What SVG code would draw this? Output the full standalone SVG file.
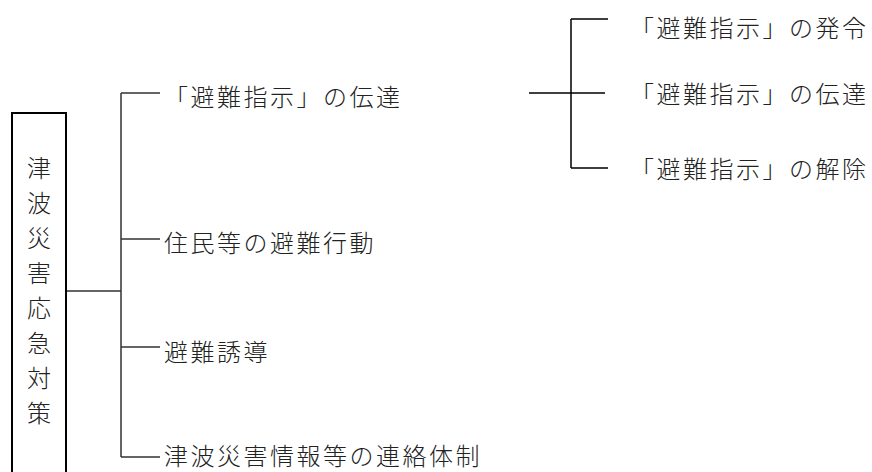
<svg xmlns="http://www.w3.org/2000/svg" width="872" height="472" viewBox="0 0 872 472">
<style>
text{font-family:"Noto Sans CJK JP","Noto Sans CJK SC",sans-serif;font-size:24px;font-weight:300;fill:#222;}
.h{letter-spacing:2.5px;}
.v{text-anchor:middle;}
.ln{stroke:#333;stroke-width:1.5;fill:none;}
.rl{stroke:#000;stroke-width:1.5;fill:none;}
.box{stroke:#000;stroke-width:2;fill:#fff;}
</style>
<rect width="872" height="472" fill="#fff"/>
<g id="connectors">
<path class="ln" d="M67 291H121M121 93V457M121 93H160M121 239H160M121 347H160M121 457H160"/>
<path class="rl" d="M529 93H605M571 19V168M571 19H608M571 168H608"/>
</g>
<g id="root">
<rect class="box" x="12" y="113" width="54" height="370"/>
<text class="v" x="39" y="177">津</text>
<text class="v" x="39" y="212">波</text>
<text class="v" x="39" y="247">災</text>
<text class="v" x="39" y="282">害</text>
<text class="v" x="39" y="317">応</text>
<text class="v" x="39" y="352">急</text>
<text class="v" x="39" y="387">対</text>
<text class="v" x="39" y="422">策</text>
</g>
<g id="n1"><text class="h" x="164" y="106">「避難指示」の伝達</text></g>
<g id="n2"><text class="h" x="164" y="252">住民等の避難行動</text></g>
<g id="n3"><text class="h" x="164" y="361">避難誘導</text></g>
<g id="n4"><text class="h" x="164" y="465">津波災害情報等の連絡体制</text></g>
<g id="n1a"><text class="h" x="630" y="37">「避難指示」の発令</text></g>
<g id="n1b"><text class="h" x="630" y="103">「避難指示」の伝達</text></g>
<g id="n1c"><text class="h" x="630" y="178">「避難指示」の解除</text></g>
</svg>
